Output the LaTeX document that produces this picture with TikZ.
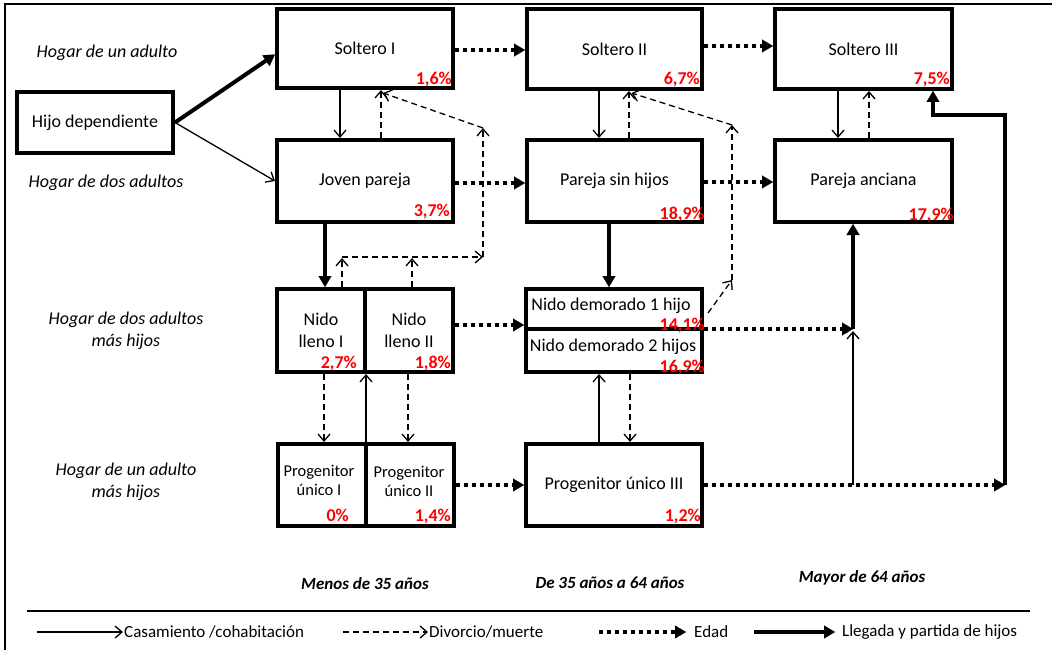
\documentclass[tikz,border=0pt]{standalone}
\usepackage{fontspec}
\setmainfont{Carlito}
\usetikzlibrary{arrows.meta}
\tikzset{
  box/.style={draw, line width=4pt, inner sep=0pt, align=center, font=\fontsize{18}{22}\selectfont},
  btxt/.style={inner sep=0pt, align=center, font=\fontsize{18}{22}\selectfont},
  ptxt/.style={inner sep=0pt, align=center, font=\fontsize{16.5}{19}\selectfont},
  pct/.style={font=\bfseries\fontsize{18}{20}\selectfont, text=red, inner sep=0pt, anchor=base east},
  lab/.style={font=\itshape\fontsize{18}{22}\selectfont, align=center, inner sep=0pt},
  col/.style={font=\bfseries\itshape\fontsize{17}{20}\selectfont, inner sep=0pt},
  leg/.style={font=\fontsize{17}{20}\selectfont, inner sep=1pt, anchor=west},
  thn/.style={line width=1.3pt, -{Straight Barb[length=7pt,width=12pt,line width=1.3pt]}},
  dsh/.style={thn, dash pattern=on 6pt off 4pt},
  dot/.style={line width=4pt, dash pattern=on 4pt off 4pt, -{Triangle[length=11pt,width=13pt,line width=0.1pt]}},
  thk/.style={line width=4pt, -{Triangle[length=11pt,width=13pt,line width=0.1pt]}},
}
\begin{document}
\begin{tikzpicture}[x=1pt,y=-1pt]
\useasboundingbox (0,0) rectangle (1052,650);
% frame
\draw[line width=1.2pt] (5,650) -- (5,4) -- (1052,4);

% boxes
\node[box, minimum width=156pt, minimum height=61pt] (hijo) at (95,122.5) {Hijo dependiente};
\node[box, minimum width=176pt, minimum height=79pt] (s1) at (365,48.5) {Soltero I};
\node[box, minimum width=176pt, minimum height=82pt] (jp) at (365,181) {Joven pareja};
\node[box, minimum width=175pt, minimum height=80pt] (s2) at (614.5,49) {Soltero II};
\node[box, minimum width=175pt, minimum height=82pt] (ps) at (614.5,181) {Pareja sin hijos};
\node[box, minimum width=177pt, minimum height=80pt] (s3) at (863.5,49) {Soltero III};
\node[box, minimum width=177pt, minimum height=82pt] (pa) at (863.5,181) {Pareja anciana};
\node[box, minimum width=88pt, minimum height=83pt] (nl1) at (321,330.5) {Nido\\lleno I};
\node[box, minimum width=88pt, minimum height=83pt] (nl2) at (409,330.5) {Nido\\lleno II};
\node[box, minimum width=176pt, minimum height=40pt] (nd1) at (614,309) {};
\node[box, minimum width=176pt, minimum height=43pt] (nd2) at (614,350.5) {};
\node[box, minimum width=88pt, minimum height=82pt] (pu1) at (322,485) {};
\node[box, minimum width=88pt, minimum height=82pt] (pu2) at (410,485) {};
\node[box, minimum width=176pt, minimum height=82pt] (pu3) at (614,485) {Progenitor único III};
\node[btxt] (ndt1) at (611,306) {Nido demorado 1 hijo};
\node[btxt] (ndt2) at (613,347) {Nido demorado 2 hijos};
\node[ptxt] (pt1) at (319,480) {Progenitor\\único I};
\node[ptxt] (pt2) at (409,481) {Progenitor\\único II};

% row labels
\node[lab] (l1) at (107,53) {Hogar de un adulto};
\node[lab] (l2) at (106,183) {Hogar de dos adultos};
\node[lab] (l3) at (126,331) {Hogar de dos adultos\\más hijos};
\node[lab] (l4) at (126,482) {Hogar de un adulto\\más hijos};

% column labels
\node[col] (c1) at (365,584) {Menos de 35 años};
\node[col] (c2) at (610,583) {De 35 años a 64 años};
\node[col] (c3) at (862,578) {Mayor de 64 años};

% coordinates
\coordinate (a1) at (342,258);
\coordinate (a2) at (412,258);
\coordinate (dl) at (483,257);
\coordinate (dlt) at (483,128);
\coordinate (dr1) at (732,280);
\coordinate (dr2) at (732,125);
\coordinate (j1) at (853,329);
\coordinate (j2) at (853,485);
\coordinate (k1) at (1005,485);
\coordinate (k2) at (1005,115);
\coordinate (k3) at (933,115);

% connectors
\draw[thk] (hijo.east) -- ([yshift=-6pt]s1.west);
\draw[thn] (hijo.east) -- (jp.west);
\draw[thn] (s1.south -| 340,0) -- (jp.north -| 340,0);
\draw[dsh] (jp.north -| 381,0) -- (s1.south -| 381,0);
\draw[dot] (s1.east |- 0,50) -- (s2.west |- 0,50);
\draw[dot] (s2.east |- 0,46) -- (s3.west |- 0,46);
\draw[dot] (jp.east |- 0,183) -- (ps.west |- 0,183);
\draw[dot] (ps.east |- 0,182) -- (pa.west |- 0,182);
\draw[thn] (s2.south -| 599,0) -- (ps.north -| 599,0);
\draw[dsh] (ps.north -| 629,0) -- (s2.south -| 629,0);
\draw[thn] (s3.south -| 838,0) -- (pa.north -| 838,0);
\draw[dsh] (pa.north -| 869,0) -- (s3.south -| 869,0);
\draw[thk] (jp.south -| 325,0) -- (nl1.north -| 325,0);
\draw[thk] (ps.south -| 609,0) -- (nd1.north -| 609,0);

\draw[dsh] (nl1.north -| a1) -- (a1);
\draw[dsh] (nl2.north -| a2) -- (a2);
\draw[dsh] (a1 |- dl) -- (dl);
\draw[dsh] (dl) -- (dlt);
\draw[dsh] (dlt) -- ([xshift=18pt,yshift=-3pt]s1.south);

\draw[dsh] ([xshift=4pt,yshift=-4pt]nd1.east) -- (dr1);
\draw[dsh] (dr1) -- (dr2);
\draw[dsh] (dr2) -- ([xshift=17pt,yshift=-2pt]s2.south);

\draw[dot] (nl2.east |- 0,325) -- (nd1.west |- 0,325);
\draw[dsh] (nl1.south -| 324,0) -- (pu1.north -| 324,0);
\draw[dsh] (nl2.south -| 408,0) -- (pu2.north -| 408,0);
\draw[thn] (pu1.north -| 366,0) -- (nl1.south -| 366,0);
\draw[dot] (pu2.east |- 0,485) -- (pu3.west |- 0,485);
\draw[thn] (pu3.north -| 599,0) -- (nd2.south -| 599,0);
\draw[dsh] (nd2.south -| 630,0) -- (pu3.north -| 630,0);

\draw[dot] (nd1.east |- j1) -- (j1);
\draw[thk] (j1) -- (pa.south -| j1);
\draw[dot] (pu3.east |- k1) -- (k1);
\draw[thn] (j2) -- ([yshift=-2pt]j1);
\draw[thk] (k1) -- (k2) -- (k3) -- (s3.south -| k3);

% percentages
\node[pct] at ([xshift=-3pt,yshift=5pt]s1.south east) {1,6\%};
\node[pct] at ([xshift=-5pt,yshift=8pt]jp.south east) {3,7\%};
\node[pct] at ([xshift=-4pt,yshift=6pt]s2.south east) {6,7\%};
\node[pct] at ([xshift=1pt,yshift=5pt]ps.south east) {18,9\%};
\node[pct] at ([xshift=-4pt,yshift=6pt]s3.south east) {7,5\%};
\node[pct] at ([xshift=0pt,yshift=4pt]pa.south east) {17,9\%};
\node[pct] at ([xshift=-10pt,yshift=6pt]nl1.south east) {2,7\%};
\node[pct] at ([xshift=-4pt,yshift=6pt]nl2.south east) {1,8\%};
\node[pct] at ([xshift=1pt,yshift=1pt]nd1.south east) {14,1\%};
\node[pct] at ([xshift=1pt,yshift=2pt]nd2.south east) {16,9\%};
\node[pct] at ([xshift=-19pt,yshift=7pt]pu1.south east) {0\%};
\node[pct] at ([xshift=-5pt,yshift=7pt]pu2.south east) {1,4\%};
\node[pct] at ([xshift=-3pt,yshift=7pt]pu3.south east) {1,2\%};

% legend
\coordinate (sepL) at (27,611);
\coordinate (sepR) at (1030,611);
\draw[line width=1.5pt] (sepL) -- (sepR);
\coordinate (lga) at (37,632);
\coordinate (lgb) at (343,632);
\coordinate (lgc) at (599,632);
\coordinate (lgd) at (754,632);
\node[leg] (lgt1) at (123,632) {Casamiento /cohabitación};
\node[leg] (lgt2) at (428,632) {Divorcio/muerte};
\node[leg] (lgt3) at (693,632) {Edad};
\node[leg] (lgt4) at (841,632) {Llegada y partida de hijos};
\draw[thn] (lga) -- (lgt1.west);
\draw[dsh] (lgb) -- (lgt2.west);
\draw[dot] (lgc) -- ([xshift=-7pt]lgt3.west);
\draw[thk] (lgd) -- ([xshift=-6pt]lgt4.west);
\end{tikzpicture}
\end{document}
